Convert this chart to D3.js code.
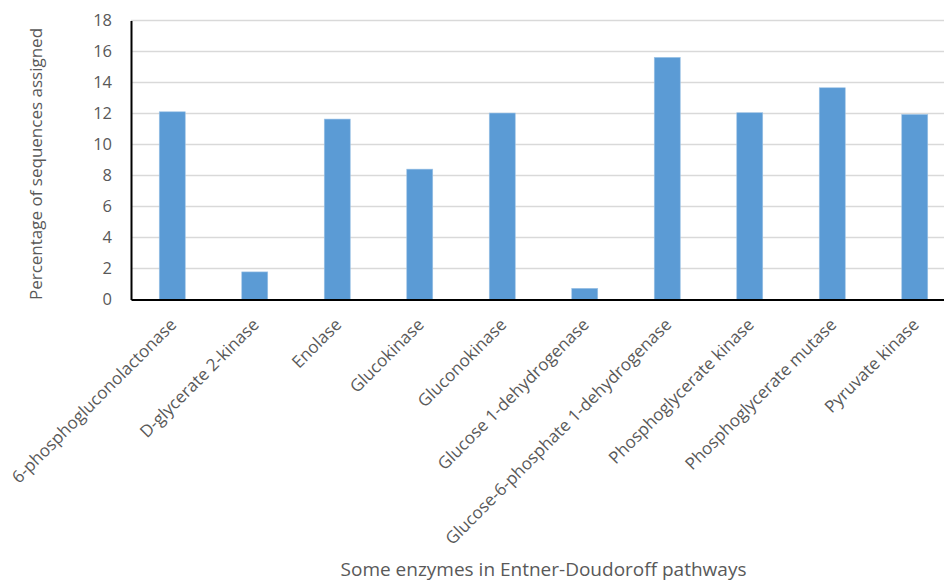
<!DOCTYPE html>
<html><head><meta charset="utf-8">
<script src="https://cdn.jsdelivr.net/npm/d3@7"></script>
<style>body{margin:0;background:#fff}svg{display:block}text{font-family:"Open Sans",sans-serif;fill:#595959}</style>
</head><body><svg id="c" width="944" height="581"></svg>
<script>
const categories = ["6-phosphogluconolactonase","D-glycerate 2-kinase","Enolase","Glucokinase","Gluconokinase","Glucose 1-dehydrogenase","Glucose-6-phosphate 1-dehydrogenase","Phosphoglycerate kinase","Phosphoglycerate mutase","Pyruvate kinase"];
const values = [12.11, 1.78, 11.64, 8.41, 12.03, 0.72, 15.62, 12.05, 13.66, 11.94];
const yTicks = [0,2,4,6,8,10,12,14,16,18];
const yTitle = "Percentage of sequences assigned";
const xTitle = "Some enzymes in Entner-Doudoroff pathways";

const svg = d3.select("#c");
const pl = 131, pr = 956, pt = 20.5, pb = 299.5;
const x = d3.scaleBand().domain(categories).range([pl, pr]).paddingInner(0.685).paddingOuter(0.3425);
const y = d3.scaleLinear().domain([0,18]).range([pb, pt]);

// gridlines
svg.append("g").selectAll("line").data(yTicks.filter(d=>d>0)).join("line")
  .attr("x1", pl).attr("x2", pr).attr("y1", d=>y(d)).attr("y2", d=>y(d))
  .attr("stroke", "#d9d9d9").attr("stroke-width", 1.3);

// bars
svg.append("g").selectAll("rect").data(values).join("rect")
  .attr("x", (d,i)=>x(categories[i])).attr("width", x.bandwidth())
  .attr("y", d=>y(d)).attr("height", d=>y(0)-y(d))
  .attr("fill", "#5b9bd5").attr("stroke", "#9dc3e6").attr("stroke-width", 0.6);

// y axis
const ya = svg.append("g").attr("transform", `translate(${pl},0)`)
  .call(d3.axisLeft(y).tickValues(yTicks).tickSize(0).tickPadding(19));
ya.select(".domain").attr("stroke", "#000").attr("stroke-width", 2);
ya.selectAll("text").style("font-size", "16.5px").style("fill", "#595959").attr("font-family", null);

// x axis
const xa = svg.append("g").attr("transform", `translate(0,${pb})`)
  .call(d3.axisBottom(x).tickSize(0).tickFormat(""));
xa.select(".domain").attr("stroke", "#000").attr("stroke-width", 2);

svg.append("g").selectAll("text").data(categories).join("text")
  .attr("transform", d=>`translate(${x(d)+x.bandwidth()/2+1},${pb+22}) rotate(-45)`)
  .attr("text-anchor", "end").attr("dy", "0.35em")
  .style("font-size", "17px").text(d=>d);

svg.append("text").attr("transform", `translate(42,${(pt+pb)/2+4}) rotate(-90)`)
  .attr("text-anchor", "middle").style("font-size", "17px").text(yTitle);

svg.append("text").attr("x", (pl+pr)/2).attr("y", 576)
  .attr("text-anchor", "middle").style("font-size", "19px").text(xTitle);
</script></body></html>
